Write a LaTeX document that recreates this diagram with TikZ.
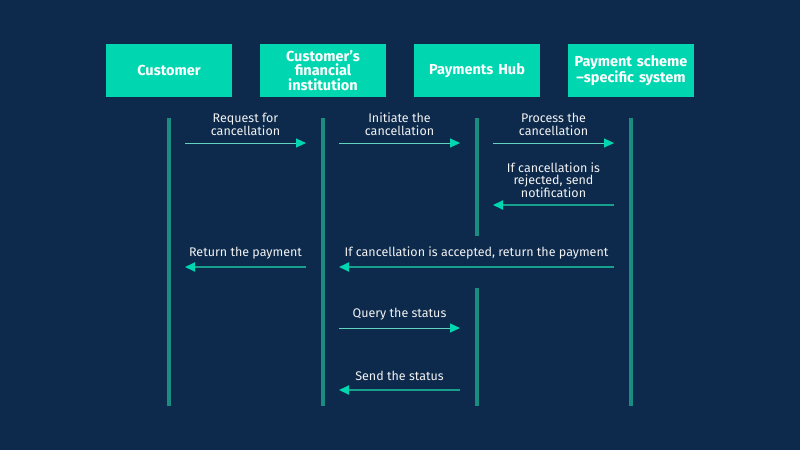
\documentclass[tikz,border=0pt]{standalone}
\usepackage{fontspec}
\setmainfont{Fira Sans}
\usetikzlibrary{arrows.meta}
\definecolor{bg}{HTML}{0D2A4C}
\definecolor{boxc}{HTML}{00D7B0}
\definecolor{lifec}{HTML}{1A8C80}
\definecolor{fwdc}{HTML}{5FD3BE}
\definecolor{backc}{HTML}{17A08C}
\definecolor{txtc}{HTML}{F2F2F2}
\tikzset{
  actor/.style={fill=boxc, minimum width=124pt, minimum height=53pt, inner sep=1pt, align=center, text=white, font=\bfseries\fontsize{14.5}{14.5}\selectfont, text width=124pt},
  life/.style={draw=lifec, line width=3.5pt},
  fwd/.style={draw=fwdc, line width=1pt, -{Triangle[length=10pt,width=9pt,fill=boxc,color=boxc]}},
  back/.style={draw=backc, line width=2pt, -{Triangle[length=10pt,width=9pt,fill=boxc,color=boxc]}},
  lbl/.style={text=txtc, font=\fontsize{12.5}{12.8}\selectfont, align=center, inner sep=0pt},
}
\begin{document}
\begin{tikzpicture}[x=1pt,y=-1pt]
\fill[bg] (0,0) rectangle (800,450);
\useasboundingbox (0,0) rectangle (800,450);
\node[actor] (c) at (169,70.5) {Customer};
\node[actor] (fi) at (323,70.5) {Customer’s\\financial\\institution};
\node[actor] (ph) at (477,70.5) {Payments Hub};
\node[actor] (ps) at (631,70.5) {Payment scheme\\–specific system};
% lifelines
\coordinate (c1) at (169,118); \coordinate (c2) at (169,406);
\coordinate (f1) at (323,118); \coordinate (f2) at (323,406);
\coordinate (h1) at (477,118); \coordinate (h2) at (477,236);
\coordinate (h3) at (477,288); \coordinate (h4) at (477,406);
\coordinate (s1) at (631,118); \coordinate (s2) at (631,406);
\draw[life] (c1) -- (c2);
\draw[life] (f1) -- (f2);
\draw[life] (h1) -- (h2);
\draw[life] (h3) -- (h4);
\draw[life] (s1) -- (s2);
% messages
\coordinate (a1s) at (185,143); \coordinate (a1e) at (306,143);
\draw[fwd] (a1s) -- (a1e);
\node[lbl] (l1) at (245.5,124) {Request for\\cancellation};
\coordinate (a2s) at (339,143); \coordinate (a2e) at (460,143);
\draw[fwd] (a2s) -- (a2e);
\node[lbl] (l2) at (399.5,124) {Initiate the\\cancellation};
\coordinate (a3s) at (493,143); \coordinate (a3e) at (614,143);
\draw[fwd] (a3s) -- (a3e);
\node[lbl] (l3) at (553.5,124) {Process the\\cancellation};
\coordinate (a4s) at (614,205); \coordinate (a4e) at (493,205);
\draw[back] (a4s) -- (a4e);
\node[lbl] (l4) at (553.5,180) {If cancellation is\\rejected, send\\notification};
\coordinate (a5s) at (306,267); \coordinate (a5e) at (185,267);
\draw[back] (a5s) -- (a5e);
\node[lbl] (l5) at (245.5,253) {Return the payment};
\coordinate (a6s) at (614,267); \coordinate (a6e) at (339,267);
\draw[back] (a6s) -- (a6e);
\node[lbl] (l6) at (476.5,253) {If cancellation is accepted, return the payment};
\coordinate (a7s) at (339,328); \coordinate (a7e) at (460,328);
\draw[fwd] (a7s) -- (a7e);
\node[lbl] (l7) at (399.5,314) {Query the status};
\coordinate (a8s) at (460,390); \coordinate (a8e) at (339,390);
\draw[back] (a8s) -- (a8e);
\node[lbl] (l8) at (399.5,376) {Send the status};
\end{tikzpicture}
\end{document}
